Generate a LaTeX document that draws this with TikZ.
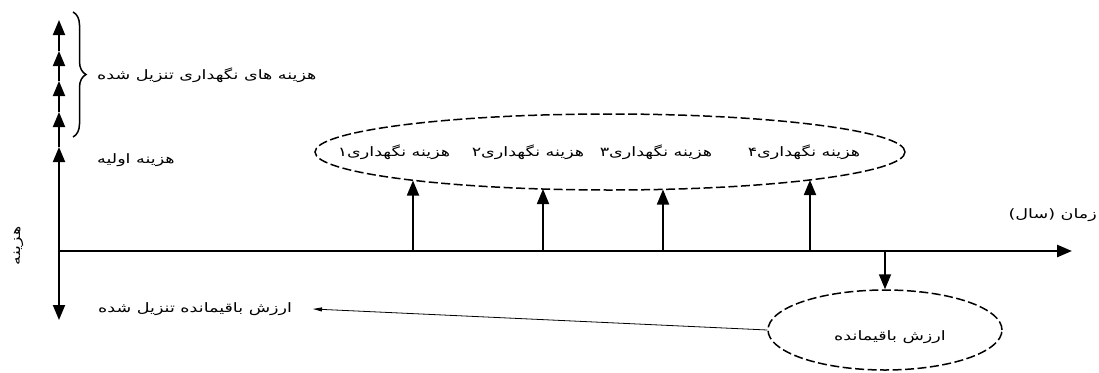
\documentclass[tikz,border=0pt]{standalone}
\usepackage{fontspec}
\newfontfamily\arabicfont[Script=Arabic, FakeStretch=1.35]{DejaVu Sans}
\TeXXeTstate=1
\usetikzlibrary{arrows.meta,decorations.pathreplacing,shapes.geometric}

\begin{document}
\begin{tikzpicture}[x=1pt, y=-1pt,
    bigtip/.style={-{Triangle[width=12pt,length=15pt]}},
    axisline/.style={line width=2.6pt, bigtip},
    costline/.style={line width=1.8pt, bigtip},
    dashring/.style={ellipse, draw, dash pattern=on 9pt off 3.5pt, line width=1.5pt, inner sep=0pt},
    fa/.style={font=\arabicfont\fontsize{13}{15}\selectfont, inner sep=0pt}]
  \useasboundingbox (0,0) rectangle (1099,372);

  % axes
  \coordinate (o) at (59,251);
  \coordinate (xend) at (1072,251);
  \coordinate (yend) at (59,320);
  \coordinate (c0) at (59,147);
  \coordinate (c1) at (59,112);
  \coordinate (c2) at (59,81);
  \coordinate (c3) at (59,51);
  \coordinate (c4) at (59,20);
  \draw[axisline] (o) -- (xend);
  \draw[costline] (o) -- (yend);
  \draw[costline] (o) -- (c0);
  \draw[costline] (c0) -- (c1);
  \draw[costline] (c1) -- (c2);
  \draw[costline] (c2) -- (c3);
  \draw[costline] (c3) -- (c4);

  \node[fa, rotate=90] (cost) at (19,246) {\beginR هزینه\endR};
  \node[fa, anchor=east] (time) at (1097,215) {\beginR زمان (سال)\endR};
  \node[fa, anchor=west] (init) at (97,160) {\beginR هزینه اولیه\endR};

  % discounted maintenance
  \draw[line width=1.5pt, decorate, decoration={brace, amplitude=13pt}] (73,12) -- (73,137);
  \node[fa, anchor=west] (dmaint) at (97,75) {\beginR هزینه های نگهداری تنزیل شده\endR};

  % maintenance costs
  \node[dashring, minimum width=590pt, minimum height=76pt] (maint) at (610,152) {};
  \node[fa] (m1) at (394,152) {\beginR هزینه نگهداری۱\endR};
  \node[fa] (m2) at (528,152) {\beginR هزینه نگهداری۲\endR};
  \node[fa] (m3) at (656,152) {\beginR هزینه نگهداری۳\endR};
  \node[fa] (m4) at (804,152) {\beginR هزینه نگهداری۴\endR};
  \coordinate (b1) at (413,251);
  \coordinate (b2) at (543,251);
  \coordinate (b3) at (663,251);
  \coordinate (b4) at (810,251);
  \coordinate (t1) at (413,180.5);
  \coordinate (t2) at (543,189);
  \coordinate (t3) at (663,189.5);
  \coordinate (t4) at (810,180);
  \draw[costline] (b1) -- (t1);
  \draw[costline] (b2) -- (t2);
  \draw[costline] (b3) -- (t3);
  \draw[costline] (b4) -- (t4);

  % salvage value
  \node[dashring, minimum width=234pt, minimum height=80pt] (salv) at (885,330) {};
  \node[fa] (sv) at (890,337) {\beginR ارزش باقیمانده\endR};
  \coordinate (b5) at (salv.north |- o);
  \draw[costline] (b5) -- (salv.north);

  \node[fa, anchor=west] (dsalv) at (98,309) {\beginR ارزش باقیمانده تنزیل شده\endR};
  \coordinate (dtip) at (313,309);
  \draw[line width=0.8pt, -{Triangle[width=4pt,length=9pt]}] (salv.west) -- (dtip);
\end{tikzpicture}
\end{document}
